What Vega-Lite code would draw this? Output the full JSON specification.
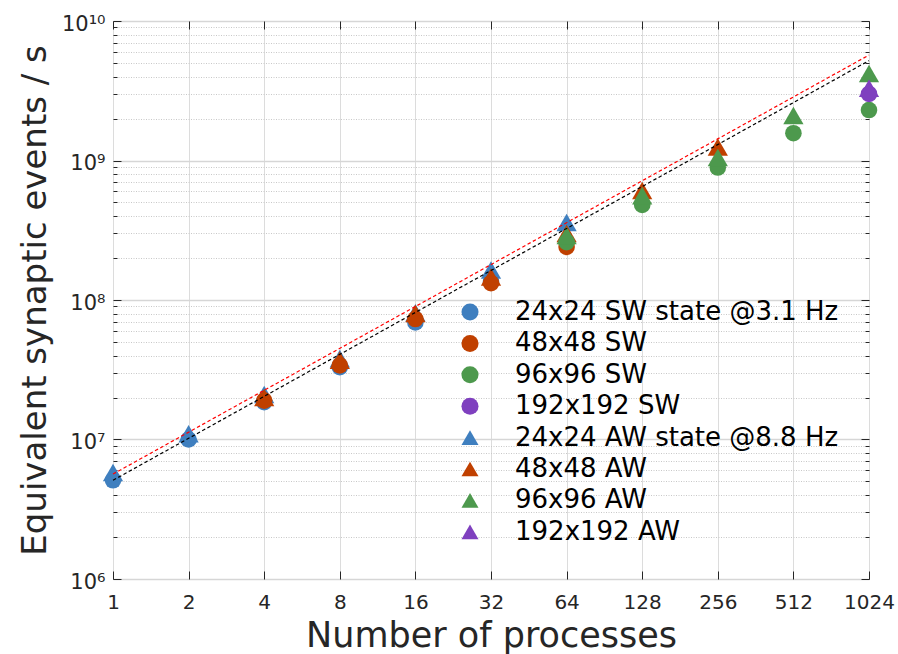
{
  "$schema": "https://vega.github.io/schema/vega-lite/v6.json",
  "width": 756,
  "height": 558,
  "autosize": "none",
  "padding": {"left": 113, "top": 21, "right": 29, "bottom": 75},
  "background": "white",
  "config": {
    "font": "DejaVu Sans",
    "view": {"stroke": "#262626", "strokeWidth": 1},
    "axis": {"labelColor": "#262626", "titleColor": "#262626", "domainColor": "#262626", "tickColor": "#262626", "labelFont": "DejaVu Sans", "titleFont": "DejaVu Sans", "titleFontWeight": "normal"}
  },
  "datasets": {
    "pts": [
      {"series": "24x24 SW state @3.1 Hz", "N": 1, "rate": 5100000},
      {"series": "24x24 SW state @3.1 Hz", "N": 2, "rate": 10000000},
      {"series": "24x24 SW state @3.1 Hz", "N": 4, "rate": 18500000},
      {"series": "24x24 SW state @3.1 Hz", "N": 8, "rate": 33000000},
      {"series": "24x24 SW state @3.1 Hz", "N": 16, "rate": 69000000},
      {"series": "24x24 SW state @3.1 Hz", "N": 32, "rate": 135000000},
      {"series": "24x24 AW state @8.8 Hz", "N": 1, "rate": 5800000},
      {"series": "24x24 AW state @8.8 Hz", "N": 2, "rate": 11000000},
      {"series": "24x24 AW state @8.8 Hz", "N": 4, "rate": 21000000},
      {"series": "24x24 AW state @8.8 Hz", "N": 8, "rate": 38000000},
      {"series": "24x24 AW state @8.8 Hz", "N": 16, "rate": 81000000},
      {"series": "24x24 AW state @8.8 Hz", "N": 32, "rate": 164000000},
      {"series": "24x24 AW state @8.8 Hz", "N": 64, "rate": 360000000},
      {"series": "48x48 SW", "N": 4, "rate": 19000000},
      {"series": "48x48 SW", "N": 8, "rate": 34000000},
      {"series": "48x48 SW", "N": 16, "rate": 73000000},
      {"series": "48x48 SW", "N": 32, "rate": 132000000},
      {"series": "48x48 SW", "N": 64, "rate": 240000000},
      {"series": "48x48 AW", "N": 4, "rate": 20000000},
      {"series": "48x48 AW", "N": 8, "rate": 37000000},
      {"series": "48x48 AW", "N": 16, "rate": 80000000},
      {"series": "48x48 AW", "N": 32, "rate": 146000000},
      {"series": "48x48 AW", "N": 64, "rate": 300000000},
      {"series": "48x48 AW", "N": 128, "rate": 610000000},
      {"series": "48x48 AW", "N": 256, "rate": 1250000000},
      {"series": "96x96 SW", "N": 64, "rate": 260000000},
      {"series": "96x96 SW", "N": 128, "rate": 480000000},
      {"series": "96x96 SW", "N": 256, "rate": 890000000},
      {"series": "96x96 SW", "N": 512, "rate": 1570000000},
      {"series": "96x96 SW", "N": 1024, "rate": 2300000000},
      {"series": "96x96 AW", "N": 64, "rate": 290000000},
      {"series": "96x96 AW", "N": 128, "rate": 560000000},
      {"series": "96x96 AW", "N": 256, "rate": 1050000000},
      {"series": "96x96 AW", "N": 512, "rate": 2100000000},
      {"series": "96x96 AW", "N": 1024, "rate": 4200000000},
      {"series": "192x192 SW", "N": 1024, "rate": 3000000000},
      {"series": "192x192 AW", "N": 1024, "rate": 3300000000}
    ],
    "fits": [
      {"fit": "black", "N": 1, "rate": 5100000},
      {"fit": "black", "N": 1024, "rate": 5200000000},
      {"fit": "red", "N": 1, "rate": 5650000},
      {"fit": "red", "N": 1024, "rate": 5700000000}
    ]
  },
  "layer": [
    {
      "data": {"name": "pts"},
      "mark": {"type": "point", "filled": true, "opacity": 1, "strokeWidth": 0},
      "encoding": {
        "x": {
          "field": "N", "type": "quantitative",
          "scale": {"type": "log", "base": 2, "domain": [1, 1024], "nice": false},
          "axis": {
            "orient": "bottom",
            "values": [1, 2, 4, 8, 16, 32, 64, 128, 256, 512, 1024],
            "format": "d",
            "labelFontSize": 20,
            "labelPadding": 21,
            "labelFlush": false,
            "labelOverlap": false,
            "tickSize": -8,
            "grid": true, "gridColor": "#dcdcdc", "gridWidth": 1,
            "title": "Number of processes",
            "titleFontSize": 35,
            "titleX": 378, "titleY": 56, "titleBaseline": "middle", "titleAlign": "center",
            "domain": false
          }
        },
        "y": {
          "field": "rate", "type": "quantitative",
          "scale": {"type": "log", "domain": [1000000, 10000000000], "nice": false},
          "axis": {
            "orient": "left",
            "values": [1000000, 2000000, 3000000, 4000000, 5000000, 6000000, 7000000, 8000000, 9000000,
                       10000000, 20000000, 30000000, 40000000, 50000000, 60000000, 70000000, 80000000, 90000000,
                       100000000, 200000000, 300000000, 400000000, 500000000, 600000000, 700000000, 800000000, 900000000,
                       1000000000, 2000000000, 3000000000, 4000000000, 5000000000, 6000000000, 7000000000, 8000000000, 9000000000,
                       10000000000],
            "labelExpr": "abs(log(datum.value)/LN10 - round(log(datum.value)/LN10)) < 0.01 ? '10' + ['','','','','','','⁶','⁷','⁸','⁹','¹⁰'][round(log(datum.value)/LN10)] : ''",
            "labelFontSize": 21,
            "labelPadding": 16,
            "labelOffset": 3,
            "labelFlush": false,
            "labelOverlap": false,
            "tickSize": {"condition": {"test": "abs(log(datum.value)/LN10 - round(log(datum.value)/LN10)) < 0.01", "value": -8}, "value": -4},
            "grid": true,
            "gridColor": {"condition": {"test": "abs(log(datum.value)/LN10 - round(log(datum.value)/LN10)) < 0.01", "value": "#d6d6d6"}, "value": "#c8c8c8"},
            "gridDash": {"condition": {"test": "abs(log(datum.value)/LN10 - round(log(datum.value)/LN10)) < 0.01", "value": []}, "value": [1, 1.5]},
            "gridWidth": {"condition": {"test": "abs(log(datum.value)/LN10 - round(log(datum.value)/LN10)) < 0.01", "value": 1.5}, "value": 1},
            "title": "Equivalent synaptic events / s",
            "titleFontSize": 34,
            "titleAngle": -90,
            "titleX": -78, "titleY": 279, "titleBaseline": "middle", "titleAlign": "center",
            "domain": false
          }
        },
        "color": {
          "field": "series", "type": "nominal",
          "scale": {
            "domain": ["24x24 SW state @3.1 Hz", "48x48 SW", "96x96 SW", "192x192 SW", "24x24 AW state @8.8 Hz", "48x48 AW", "96x96 AW", "192x192 AW"],
            "range": ["#3F7FBF", "#C04000", "#4D994D", "#7F40BF", "#3F7FBF", "#C04000", "#4D994D", "#7F40BF"]
          },
          "legend": {
            "orient": "none", "legendX": 344, "legendY": 278,
            "title": null,
            "labelFontSize": 26, "labelColor": "#000000", "labelOffset": 32, "labelLimit": 800,
            "symbolStrokeWidth": 0, "symbolSize": 290,
            "rowPadding": 5.4
          }
        },
        "shape": {
          "field": "series", "type": "nominal",
          "scale": {
            "domain": ["24x24 SW state @3.1 Hz", "48x48 SW", "96x96 SW", "192x192 SW", "24x24 AW state @8.8 Hz", "48x48 AW", "96x96 AW", "192x192 AW"],
            "range": ["circle", "circle", "circle", "circle", "triangle-up", "triangle-up", "triangle-up", "triangle-up"]
          },
          "legend": {
            "orient": "none", "legendX": 344, "legendY": 278,
            "title": null,
            "labelFontSize": 26, "labelColor": "#000000", "labelOffset": 32, "labelLimit": 800,
            "symbolStrokeWidth": 0, "symbolSize": 290,
            "rowPadding": 5.4
          }
        },
        "size": {
          "condition": {"test": "indexof(datum.series, 'AW') >= 0", "value": 410},
          "value": 275
        }
      }
    },
    {
      "data": {"name": "fits"},
      "transform": [{"filter": "datum.fit === 'black'"}],
      "mark": {"type": "line", "color": "#000000", "strokeDash": [3.5, 2.5], "strokeWidth": 1.2},
      "encoding": {
        "x": {"field": "N", "type": "quantitative", "scale": {"type": "log", "base": 2, "domain": [1, 1024], "nice": false},
              "axis": {"orient": "top", "values": [1, 2, 4, 8, 16, 32, 64, 128, 256, 512, 1024], "labels": false, "tickSize": -8, "grid": false, "domain": false, "title": null}},
        "y": {"field": "rate", "type": "quantitative", "scale": {"type": "log", "domain": [1000000, 10000000000], "nice": false},
              "axis": {"orient": "right",
                       "values": [1000000, 2000000, 3000000, 4000000, 5000000, 6000000, 7000000, 8000000, 9000000,
                       10000000, 20000000, 30000000, 40000000, 50000000, 60000000, 70000000, 80000000, 90000000,
                       100000000, 200000000, 300000000, 400000000, 500000000, 600000000, 700000000, 800000000, 900000000,
                       1000000000, 2000000000, 3000000000, 4000000000, 5000000000, 6000000000, 7000000000, 8000000000, 9000000000,
                       10000000000],
                       "labels": false, "grid": false, "domain": false, "title": null,
                       "tickSize": {"condition": {"test": "abs(log(datum.value)/LN10 - round(log(datum.value)/LN10)) < 0.01", "value": -8}, "value": -4}}}
      }
    },
    {
      "data": {"name": "fits"},
      "transform": [{"filter": "datum.fit === 'red'"}],
      "mark": {"type": "line", "color": "#FF0000", "strokeDash": [3.5, 2.5], "strokeWidth": 1.2},
      "encoding": {
        "x": {"field": "N", "type": "quantitative", "scale": {"type": "log", "base": 2, "domain": [1, 1024], "nice": false}, "axis": null},
        "y": {"field": "rate", "type": "quantitative", "scale": {"type": "log", "domain": [1000000, 10000000000], "nice": false}, "axis": null}
      }
    }
  ],
  "resolve": {"axis": {"x": "independent", "y": "independent"}}
}
